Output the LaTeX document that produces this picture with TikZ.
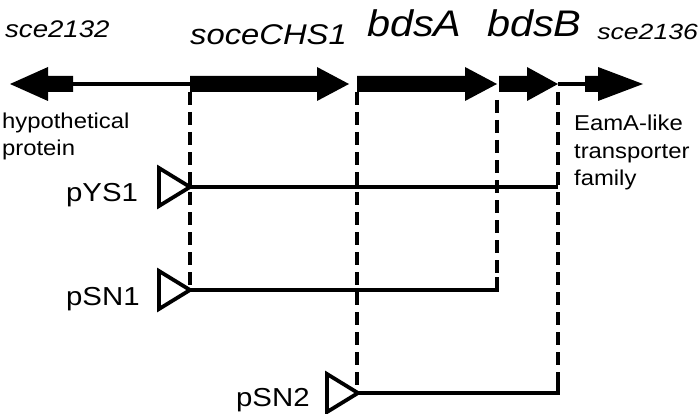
\documentclass[tikz,border=0pt]{standalone}
\usepackage{fontspec}
\setmainfont{Liberation Sans}
\begin{document}
\begin{tikzpicture}[x=1pt,y=-1pt,line width=3.8pt,line join=miter,
  genebox/.style={fill=black,draw=none},
  dashv/.style={line width=3.5pt,dash pattern=on 13pt off 7pt},
  lab/.style={inner sep=0pt,anchor=base west},
  gname/.style={lab,font=\fontsize{#1}{#1}\selectfont\itshape},
  small/.style={lab,xscale=1.11,font=\fontsize{21.5}{21.5}\selectfont},
  plab/.style={lab,xscale=1.13,font=\fontsize{26}{26}\selectfont},
  prom/.style={draw=black,fill=none}]
\useasboundingbox (0,0) rectangle (700,414);
% gene labels
\node[gname=24,xscale=1.15] (t2132) at (3,38) {sce2132};
\node[gname=28.5,xscale=1.15] (tchs) at (188,45) {soceCHS1};
\node[gname=37,xscale=1.12] (tbdsA) at (365,37) {bdsA};
\node[gname=37,xscale=1.12] (tbdsB) at (485,37) {bdsB};
\node[gname=22,xscale=1.21] (t2136) at (595,40) {sce2136};
% gene arrows
\path[genebox] (73,76) -- (48,76) -- (48,67) -- (10,84) -- (48,101) -- (48,92) -- (73,92) -- cycle;
\path[genebox] (190,76) -- (317,76) -- (317,67) -- (349,84) -- (317,101) -- (317,92) -- (190,92) -- cycle;
\path[genebox] (357,76) -- (465,76) -- (465,67) -- (497,84) -- (465,101) -- (465,92) -- (357,92) -- cycle;
\path[genebox] (499,76) -- (527,76) -- (527,67) -- (558,84) -- (527,101) -- (527,92) -- (499,92) -- cycle;
\path[genebox] (585,76) -- (598,76) -- (598,67) -- (643,84) -- (598,101) -- (598,92) -- (585,92) -- cycle;
\coordinate (b1) at (73,84);
\coordinate (b2) at (190,84);
\coordinate (b3) at (558,84);
\coordinate (b4) at (585,84);
\draw (b1) -- (b2);
\draw (b3) -- (b4);
% annotations
\node[small] (hyp) at (0,129) {hypothetical};
\node[small] (prot) at (0,155) {protein};
\node[small] (eam) at (572,131) {EamA-like};
\node[small] (trans) at (572,158) {transporter};
\node[small] (fam) at (572,185) {family};
% boundaries
\coordinate (d1t) at (190,92);
\coordinate (d2t) at (357,92);
\coordinate (d3t) at (497,100);
\coordinate (d4t) at (558,92);
% promoters
\coordinate (p1) at (190,187);
\coordinate (p1e) at (558,187);
\coordinate (p2) at (190,290);
\coordinate (p2e) at (497,290);
\coordinate (p2c) at (497,277);
\coordinate (p3) at (358,393);
\coordinate (p3e) at (558,393);
\coordinate (p3c) at (558,380);
\draw[dashv] (d1t) -- (p2);
\draw[dashv] (d2t) -- (357,393);
\draw[dashv] (d3t) -- (p2c);
\draw[dashv] (d4t) -- (p3c);
\draw (p1) -- (p1e);
\draw (p2) -- (p2e) -- (p2c);
\draw (p3) -- (p3e) -- (p3c);
\draw[prom] (159,168) -- (p1) -- (159,206) -- cycle;
\draw[prom] (159,271) -- (p2) -- (159,309) -- cycle;
\draw[prom] (327,374) -- (p3) -- (327,412) -- cycle;
\node[plab] (lYS1) at (64,201) {pYS1};
\node[plab] (lSN1) at (64,305) {pSN1};
\node[plab] (lSN2) at (234,406) {pSN2};
\end{tikzpicture}
\end{document}
